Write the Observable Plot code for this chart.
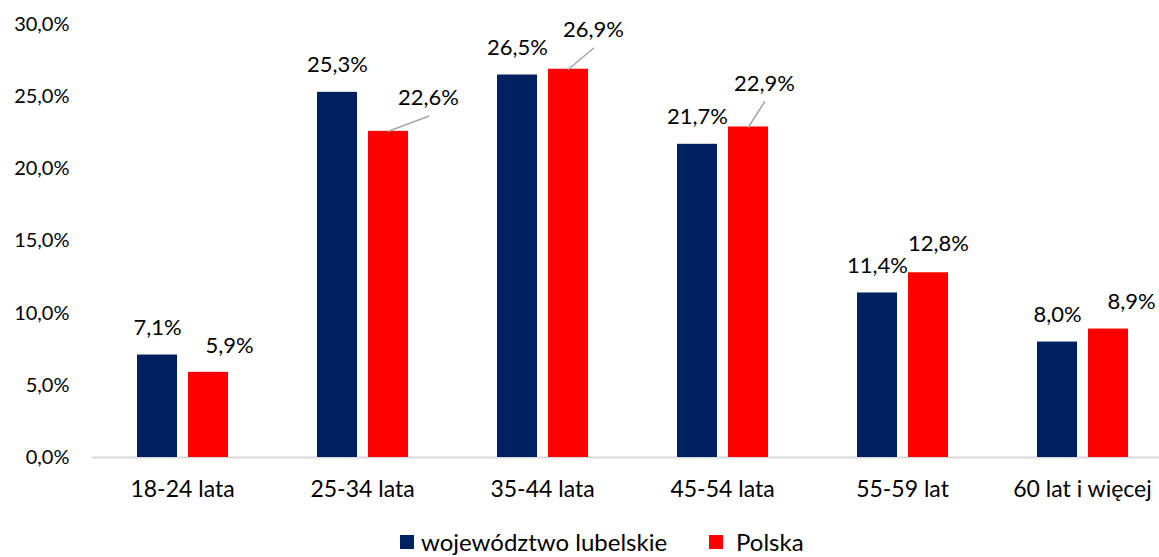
<!DOCTYPE html>
<html>
<head>
<meta charset="utf-8">
<script src="https://cdn.jsdelivr.net/npm/d3@7"></script>
<script src="https://cdn.jsdelivr.net/npm/@observablehq/plot@0.6"></script>
<style>
  html, body { margin: 0; padding: 0; background: #fff; }
  body { width: 1159px; height: 557px; overflow: hidden; font-family: Lato, "Open Sans", sans-serif; }
  #legend { position: relative; height: 32px; font-size: 24px; color: #000; }
  #legend .item { position: absolute; top: 4px; display: flex; align-items: center; white-space: nowrap; line-height: 26px; }
  #legend .sw { width: 14px; height: 14px; display: inline-block; }
</style>
</head>
<body>
<div id="chart"></div>
<div id="legend"></div>
<script>
// ---- data ----
const categories = ["18-24 lata", "25-34 lata", "35-44 lata", "45-54 lata", "55-59 lat", "60 lat i więcej"];
const lubelskie = [7.1, 25.3, 26.5, 21.7, 11.4, 8.0];
const polska = [5.9, 22.6, 26.9, 22.9, 12.8, 8.9];
const seriesNames = ["województwo lubelskie", "Polska"];
const yTicks = [0, 5, 10, 15, 20, 25, 30];

// ---- layout (label nudges for Polska labels, px: [dx, up]) ----
const polskaLabelNudge = [[21, 26], [40, 33], [25, 39], [16, 43], [10, 29], [23, 27]];
const polskaLeader = [false, true, true, true, false, false];

const navy = "#002060";
const red = "#FF0000";

const rowsL = categories.map((c, i) => ({cat: c, v: lubelskie[i]}));
const rowsP = categories.map((c, i) => ({cat: c, v: polska[i], ndx: polskaLabelNudge[i][0], up: polskaLabelNudge[i][1], leader: polskaLeader[i]}));
const leaders = rowsP.filter(d => d.leader).map(d => {
  const ex = d.ndx, ey = -d.up + 18;
  return {...d, len: Math.hypot(ex, ey), rot: Math.atan2(ex, -ey) * 180 / Math.PI};
});

const fmt = v => v.toFixed(1).replace(".", ",") + "%";

const chart = Plot.plot({
  width: 1159,
  height: 525,
  marginLeft: 92,
  marginRight: 0,
  marginTop: 24,
  marginBottom: 68,
  style: {fontFamily: "Lato, 'Open Sans', sans-serif", fontSize: "20px", color: "#000", background: "#fff", overflow: "visible"},
  x: {type: "band", domain: categories, range: [92, 1172], padding: 0, label: null},
  y: {domain: [0, 30], range: [457, 24], label: null},
  length: {type: "identity"},
  marks: [
    Plot.axisY({ticks: yTicks, tickFormat: d => d.toFixed(1).replace(".", ",") + "%", tickSize: 0, tickPadding: 23, label: null, fontSize: 20}),
    Plot.axisX({tickSize: 0, tickPadding: 23, label: null, fontSize: 23}),
    Plot.ruleY([0], {stroke: "#d9d9d9", strokeWidth: 2}),
    Plot.barY(rowsL, {x: "cat", y: "v", fill: navy, insetLeft: 45, insetRight: 95}),
    Plot.barY(rowsP, {x: "cat", y: "v", fill: red, insetLeft: 96, insetRight: 44}),
    Plot.vector(leaders, {
      x: "cat", y: "v", dx: 26, length: "len", rotate: "rot", anchor: "start",
      stroke: "#a6a6a6", strokeWidth: 1.5,
      shape: {draw(ctx, l) { ctx.moveTo(0, 0); ctx.lineTo(0, -l); }}
    }),
    Plot.text(rowsL, {x: "cat", y: "v", text: d => fmt(d.v), dx: -25, dy: -27, fontSize: 22, fill: "#000"}),
    Plot.text(rowsP, {x: "cat", y: "v", text: d => fmt(d.v), fontSize: 22, fill: "#000",
      render(index, scales, values, dims, ctx, next) {
        const g = next(index, scales, values, dims, ctx);
        d3.select(g).selectAll("text").each(function(_, j) {
          const d = rowsP[index[j]];
          if (!d) return;
          const prev = this.getAttribute("transform") || "";
          this.setAttribute("transform", `translate(${26 + d.ndx},${-d.up}) ${prev}`);
        });
        return g;
      }
    })
  ]
});
document.getElementById("chart").appendChild(chart);

const legend = document.getElementById("legend");
const legendItems = [{name: seriesNames[0], color: navy, left: 400, gap: 7}, {name: seriesNames[1], color: red, left: 709, gap: 13}];
legendItems.forEach(it => {
  const el = document.createElement("div");
  el.className = "item";
  el.style.left = it.left + "px";
  el.innerHTML = `<span class="sw" style="background:${it.color};margin-right:${it.gap}px"></span><span>${it.name}</span>`;
  legend.appendChild(el);
});
</script>
</body>
</html>
